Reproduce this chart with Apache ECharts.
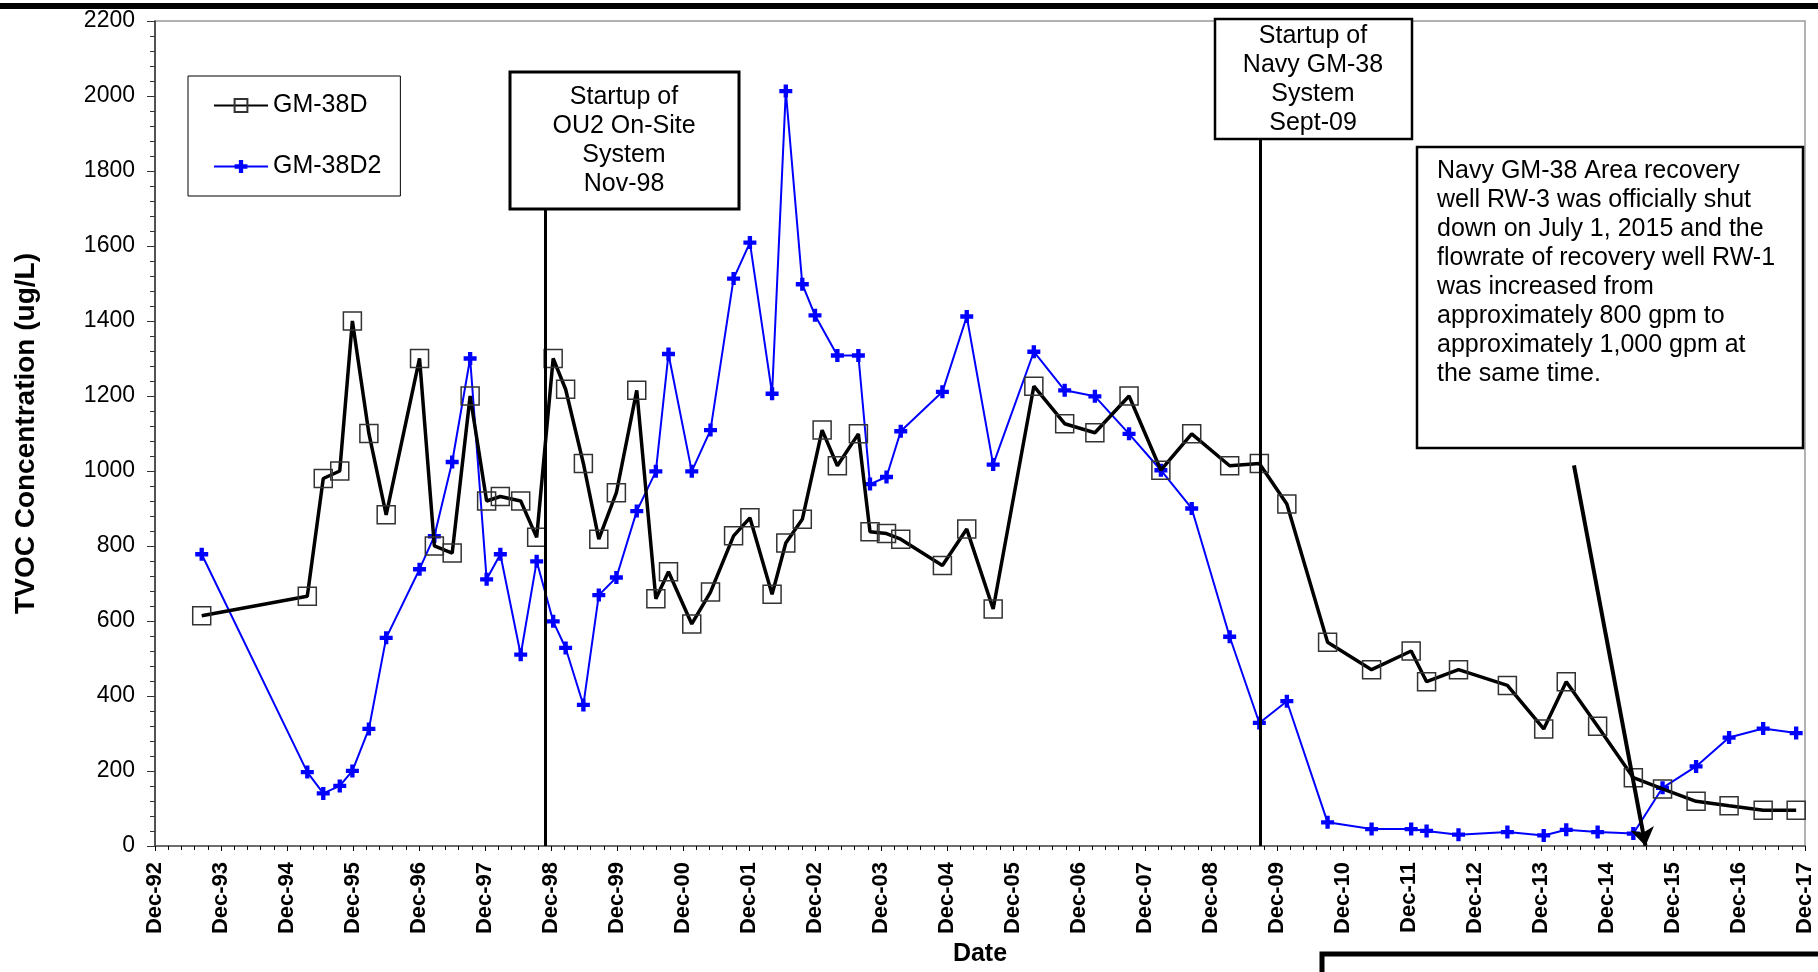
<!DOCTYPE html>
<html>
<head>
<meta charset="utf-8">
<script src="https://cdn.jsdelivr.net/npm/echarts/dist/echarts.min.js"></script>
<style>
html, body { margin: 0; padding: 0; background: #fff; }
#chart { width: 1818px; height: 972px; }
</style>
</head>
<body>
<div id="chart"></div>
<script>
// sampling dates and TVOC results (ug/L)
const datesD = ['1993-08-16','1995-03-22','1995-06-19','1995-09-19','1995-11-28','1996-02-28','1996-06-02','1996-12-04',
  '1997-02-25','1997-06-02','1997-09-10','1997-12-10','1998-02-25','1998-06-16','1998-09-13','1998-12-13',
  '1999-02-21','1999-05-28','1999-08-22','1999-11-28','2000-03-19','2000-07-03','2000-09-12','2001-01-19',
  '2001-05-01','2001-09-07','2001-12-06','2002-04-07','2002-06-22','2002-09-22','2003-01-10','2003-04-03',
  '2003-07-28','2003-10-01','2004-01-01','2004-03-19','2004-11-06','2005-03-19','2005-08-13','2006-03-25',
  '2006-09-13','2007-02-28','2007-09-04','2008-02-28','2008-08-16','2009-03-13','2009-08-25','2010-01-25',
  '2010-09-07','2011-05-07','2011-12-13','2012-03-07','2012-09-01','2013-05-28','2013-12-16','2014-04-19',
  '2014-10-10','2015-04-25','2015-10-04','2016-04-07','2016-10-07','2017-04-13','2017-10-13'];
const valuesD = [614, 666, 980, 1000, 1400, 1100, 883, 1300, 800, 781, 1200, 920, 932, 920, 823, 1300,
  1218, 1020, 818, 942, 1215, 659, 731, 592, 677, 827, 875, 671, 808, 871, 1109, 1014,
  1099, 838, 833, 818, 748, 845, 632, 1226, 1126, 1102, 1200, 1002, 1099, 1014, 1020, 912,
  543, 470, 520, 438, 470, 428, 312, 438, 319, 182, 152, 119, 107, 95, 95];

const datesD2 = ['1993-08-16','1995-03-22','1995-06-19','1995-09-19','1995-11-28','1996-02-28','1996-06-02','1996-12-04',
  '1997-02-25','1997-06-02','1997-09-10','1997-12-10','1998-02-25','1998-06-16','1998-09-13','1998-12-13',
  '1999-02-21','1999-05-28','1999-08-22','1999-11-28','2000-03-19','2000-07-03','2000-09-12','2001-01-19',
  '2001-05-01','2001-09-07','2001-12-06','2002-04-07','2002-06-22','2002-09-22','2002-12-01','2003-04-03',
  '2003-07-28','2003-10-01','2004-01-01','2004-03-19','2004-11-06','2005-03-19','2005-08-13','2006-03-25',
  '2006-09-13','2007-02-28','2007-09-04','2008-02-28','2008-08-16','2009-03-13','2009-08-25','2010-01-25',
  '2010-09-07','2011-05-07','2011-12-13','2012-03-07','2012-09-01','2013-05-28','2013-12-16','2014-04-19',
  '2014-10-10','2015-04-25','2015-10-04','2016-04-07','2016-10-07','2017-04-13','2017-10-13'];
const valuesD2 = [778, 197, 140, 160, 200, 312, 555, 738, 826, 1024, 1300, 711, 778, 510, 759, 599,
  528, 376, 669, 716, 893, 999, 1312, 999, 1109, 1513, 1609, 1206, 2013, 1498, 1415, 1308,
  1308, 965, 984, 1106, 1211, 1412, 1017, 1318, 1215, 1199, 1099, 1002, 900, 558, 328, 386,
  63, 45, 45, 40, 30, 37, 28, 43, 37, 33, 155, 212, 289, 313, 301];

const seriesNames = ['GM-38D', 'GM-38D2'];
const startDate = '1992-12-01';
const endDate = '2017-12-01';
const ou2Start = '1998-11-01';
const navyStart = '2009-09-01';
const rw3Shutdown = '2015-07-01';

const ou2Lines = ['Startup of', 'OU2 On-Site', 'System', 'Nov-98'];
const navyLines = ['Startup of', 'Navy GM-38', 'System', 'Sept-09'];
const noteLines = ['Navy GM-38 Area recovery', 'well RW-3 was officially shut', 'down on July 1, 2015 and the',
  'flowrate of recovery well RW-1', 'was increased from', 'approximately 800 gpm to',
  'approximately 1,000 gpm at', 'the same time.'];

// months after Dec-92, so that each year tick is a multiple of 12
function toMonths(s) {
  const p = s.split('-').map(Number);
  return (p[0] - 1992) * 12 + (p[1] - 12) + (p[2] - 1) / 30.4;
}

const font = '"Liberation Sans", Arial, sans-serif';
const dataD = datesD.map((d, i) => [toMonths(d), valuesD[i]]);
const dataD2 = datesD2.map((d, i) => [toMonths(d), valuesD2[i]]);
const plusPath = 'path://M4,0H8V4H12V8H8V12H4V8H0V4H4Z';

var dom = document.getElementById('chart');
var myChart = echarts.init(dom, null, { renderer: 'canvas' });

function boxText(x, y, lines, align) {
  return {
    type: 'text',
    x: x,
    y: y,
    z: 101,
    style: {
      text: lines.join('\n'),
      fill: '#000',
      fontSize: 25,
      fontFamily: font,
      lineHeight: 29,
      align: align,
      textAlign: align,
      verticalAlign: 'top',
      textVerticalAlign: 'top'
    }
  };
}
function box(x, y, w, h, lw) {
  return {
    type: 'rect',
    z: 100,
    shape: { x: x, y: y, width: w, height: h },
    style: { fill: '#fff', stroke: '#000', lineWidth: lw }
  };
}

var option = {
  animation: false,
  backgroundColor: '#fff',
  grid: {
    left: 155,
    right: 13,
    top: 21,
    bottom: 123,
    show: true,
    borderColor: '#999',
    borderWidth: 1.5
  },
  legend: {
    data: seriesNames,
    orient: 'vertical',
    left: 188,
    top: 76,
    backgroundColor: '#fff',
    borderColor: '#000',
    borderWidth: 1,
    padding: [17, 19, 17, 25],
    itemGap: 36,
    itemWidth: 54,
    itemHeight: 16,
    textStyle: { fontSize: 25, fontFamily: font, color: '#000' }
  },
  xAxis: {
    type: 'value',
    min: toMonths(startDate),
    max: toMonths(endDate),
    interval: 12,
    name: 'Date',
    nameLocation: 'middle',
    nameGap: 92,
    nameTextStyle: { fontSize: 25, fontWeight: 'bold', fontFamily: font, color: '#000' },
    axisLine: { lineStyle: { color: '#555', width: 1.5 } },
    axisTick: { length: 5, lineStyle: { color: '#000' } },
    minorTick: { show: true, splitNumber: 5, length: 4, lineStyle: { color: '#000' } },
    splitLine: { show: false },
    axisLabel: {
      rotate: 90,
      margin: 16,
      fontSize: 22,
      fontWeight: 'bold',
      fontFamily: font,
      color: '#000',
      formatter: function (v) {
        const yy = Math.round(92 + v / 12) % 100;
        return 'Dec-' + String(yy).padStart(2, '0');
      }
    }
  },
  yAxis: {
    type: 'value',
    min: 0,
    max: 2200,
    interval: 200,
    name: 'TVOC Concentration (ug/L)',
    nameLocation: 'middle',
    nameGap: 115,
    nameTextStyle: { fontSize: 28, fontWeight: 'bold', fontFamily: font, color: '#000' },
    axisLine: { show: true, lineStyle: { color: '#333', width: 1.5 } },
    axisTick: { length: 8, lineStyle: { color: '#333' } },
    minorTick: { show: true, splitNumber: 5, length: 5, lineStyle: { color: '#333' } },
    splitLine: { show: false },
    axisLabel: {
      fontSize: 23,
      fontFamily: font,
      color: '#000',
      margin: 20,
      formatter: function (v) { return String(v); }
    }
  },
  series: [
    {
      name: seriesNames[0],
      type: 'line',
      data: dataD,
      symbol: 'rect',
      symbolSize: 18,
      lineStyle: { color: '#000', width: 3.5 },
      itemStyle: { color: 'rgba(255,255,255,0)', borderColor: '#333', borderWidth: 1.5 },
      z: 3,
      markLine: {
        silent: true,
        symbol: ['none', 'none'],
        label: { show: false },
        lineStyle: { color: '#000', width: 3, type: 'solid' },
        data: [
          [{ coord: [toMonths(ou2Start), 0] }, { coord: [toMonths(ou2Start), 1700] }],
          [{ coord: [toMonths(navyStart), 0] }, { coord: [toMonths(navyStart), 1890] }]
        ]
      }
    },
    {
      name: seriesNames[1],
      type: 'line',
      data: dataD2,
      symbol: plusPath,
      symbolSize: 13,
      lineStyle: { color: '#0000ff', width: 2 },
      itemStyle: { color: '#0000ff' },
      z: 2,
      markLine: {
        silent: true,
        symbol: ['none', 'arrow'],
        symbolSize: 18,
        label: { show: false },
        lineStyle: { color: '#000', width: 4, type: 'solid' },
        data: [
          [{ coord: [258, 1015] }, { coord: [toMonths(rw3Shutdown), 0] }]
        ]
      }
    }
  ],
  graphic: [
    { type: 'rect', z: 100, shape: { x: 0, y: 3, width: 1818, height: 6 }, style: { fill: '#000' } },
    box(510, 72, 229, 137, 3),
    boxText(624, 83, ou2Lines, 'center'),
    box(1215, 19, 197, 120, 2.5),
    boxText(1313, 22, navyLines, 'center'),
    box(1417, 147, 386, 301, 2.5),
    boxText(1437, 157, noteLines, 'left'),
    { type: 'rect', z: 100, shape: { x: 1322, y: 954, width: 520, height: 60 },
      style: { fill: 'none', stroke: '#000', lineWidth: 5 } }
  ]
};

if (option && typeof option === 'object') {
  myChart.setOption(option);
}
window.addEventListener('resize', myChart.resize);
</script>
</body>
</html>
